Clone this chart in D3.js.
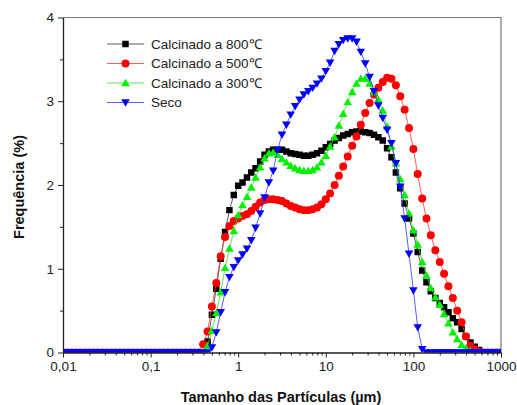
<!DOCTYPE html>
<html><head><meta charset="utf-8">
<script src="https://cdn.jsdelivr.net/npm/d3@7"></script>
<style>body{margin:0;background:#fff}svg{display:block}text{font-family:Arial,"Liberation Sans",sans-serif}</style>
</head><body><svg id="c" width="517" height="405"></svg>
<script>
const sizes=[0.01,0.0112,0.0126,0.0141,0.0158,0.0178,0.02,0.0224,0.0251,0.0282,0.0316,0.0355,0.0398,0.0447,0.0501,0.0562,0.0631,0.0708,0.0794,0.0891,
0.1,0.112,0.126,0.141,0.158,0.178,0.2,0.224,0.251,0.282,0.316,0.355,0.398,0.447,0.501,0.562,0.631,0.708,0.794,0.891,
1,1.12,1.26,1.41,1.58,1.78,2,2.24,2.51,2.82,3.16,3.55,3.98,4.47,5.01,5.62,6.31,7.08,7.94,8.91,
10,11.2,12.6,14.1,15.8,17.8,20,22.4,25.1,28.2,31.6,35.5,39.8,44.7,50.1,56.2,63.1,70.8,79.4,89.1,
100,112,126,141,158,178,200,224,251,282,316,355,398,447,501,562,631,708,794,891,1000];

const seriesNames=["Calcinado a 800\u2103","Calcinado a 500\u2103","Calcinado a 300\u2103","Seco"];

const calc800=[0,0,0,0,0,0,0,0,0,0,0,0,0,0,0,0,0,0,0,0,
0,0,0,0,0,0,0,0,0,0,0,0,0,0.13,0.45,0.76,1.12,1.44,1.70,1.88,
1.99,2.03,2.09,2.15,2.20,2.28,2.36,2.40,2.42,2.42,2.42,2.40,2.38,2.37,2.36,2.35,2.35,2.36,2.38,2.41,
2.45,2.49,2.53,2.56,2.59,2.61,2.63,2.64,2.64,2.63,2.62,2.60,2.57,2.53,2.44,2.33,2.15,1.96,1.78,1.60,
1.42,1.20,0.98,0.84,0.73,0.65,0.59,0.54,0.48,0.41,0.36,0.28,0.19,0.12,0.07,0.03,0,0,0,0,
0];
const calc500=[0,0,0,0,0,0,0,0,0,0,0,0,0,0,0,0,0,0,0,0,
0,0,0,0,0,0,0,0,0,0,0,0,0.10,0.25,0.55,0.83,1.15,1.38,1.51,1.57,
1.60,1.63,1.65,1.69,1.74,1.79,1.82,1.83,1.83,1.82,1.81,1.78,1.75,1.73,1.71,1.70,1.70,1.71,1.73,1.77,
1.83,1.90,2.00,2.11,2.22,2.34,2.47,2.58,2.72,2.86,2.98,3.08,3.16,3.23,3.28,3.27,3.19,3.06,2.90,2.68,
2.43,2.13,1.84,1.60,1.40,1.22,1.08,0.94,0.79,0.65,0.50,0.36,0.19,0.08,0.04,0.01,0,0,0,0,
0];
const calc300=[0,0,0,0,0,0,0,0,0,0,0,0,0,0,0,0,0,0,0,0,
0,0,0,0,0,0,0,0,0,0,0,0,0,0.08,0.26,0.47,0.72,1.01,1.24,1.45,
1.64,1.76,1.86,1.97,2.09,2.21,2.32,2.38,2.39,2.36,2.31,2.27,2.23,2.20,2.18,2.17,2.17,2.18,2.21,2.27,
2.35,2.46,2.57,2.71,2.85,2.99,3.11,3.21,3.27,3.27,3.21,3.11,3.02,2.89,2.70,2.46,2.26,2.07,1.88,1.66,
1.46,1.29,1.08,0.92,0.77,0.66,0.57,0.46,0.35,0.24,0.16,0.09,0.05,0.02,0,0,0,0,0,0,
0];
const seco=[0,0,0,0,0,0,0,0,0,0,0,0,0,0,0,0,0,0,0,0,
0,0,0,0,0,0,0,0,0,0,0,0,0,0,0.06,0.24,0.48,0.72,0.90,1.02,
1.10,1.17,1.24,1.34,1.49,1.66,1.85,2.03,2.17,2.42,2.60,2.72,2.84,2.94,3.02,3.08,3.12,3.16,3.21,3.27,
3.36,3.46,3.60,3.68,3.73,3.75,3.75,3.71,3.59,3.45,3.29,3.12,2.95,2.80,2.66,2.50,2.26,1.98,1.60,1.18,
0.74,0.30,0.04,0,0,0,0,0,0,0,0,0,0,0,0,0,0,0,0,0,
0];

const xTickValues=[0.01,0.1,1,10,100,1000];
const xTickLabels=["0,01","0,1","1","10","100","1000"];
const yTickValues=[0,1,2,3,4];
const yMinorValues=[0.5,1.5,2.5,3.5];
const xAxisTitle="Tamanho das Part\u00edculas (\u00b5m)";
const yAxisTitle="Frequ\u00eancia (%)";

const colors=["#000000","#ff0000","#00f000","#0000ff"];
const lineColors=["#333333","#ff3333","#33dd33","#3333ff"];
const allSeries=[calc800,calc500,calc300,seco];

const svg=d3.select("#c");
const L=63,R=501,T=17.5,B=352.5;
const x=d3.scaleLog().domain([0.01,1000]).range([L,R]);
const y=d3.scaleLinear().domain([0,4]).range([B,T]);

svg.append("line").attr("x1",L).attr("x2",R).attr("y1",T).attr("y2",T).attr("stroke","#777").attr("stroke-width",1.2);
svg.append("line").attr("x1",R).attr("x2",R).attr("y1",T).attr("y2",B).attr("stroke","#777").attr("stroke-width",1.2);

svg.append("clipPath").attr("id","clip").append("rect").attr("x",L).attr("y",T-10).attr("width",R-L).attr("height",B-T+10);

const markerPath=[
  d3.symbol().type(d3.symbolSquare).size(42)(),
  d3.symbol().type(d3.symbolCircle).size(50)(),
  "M0,-4.2L4.3,3.2L-4.3,3.2Z",
  "M0,4.2L4.3,-3.2L-4.3,-3.2Z"
];

const line=d3.line().x((d,i)=>x(sizes[i])).y(d=>y(d));
const g=svg.append("g").attr("clip-path","url(#clip)");
allSeries.forEach((s,k)=>{
  g.append("path").datum(s).attr("d",line).attr("fill","none").attr("stroke",lineColors[k]).attr("stroke-width",0.8);
  g.selectAll(null).data(s).enter().append("path")
    .attr("d",markerPath[k]).attr("fill",colors[k])
    .attr("transform",(d,i)=>`translate(${x(sizes[i])},${y(d)})`);
});

const xMinor=[];
[0.01,0.1,1,10,100].forEach(dec=>{for(let m=2;m<=9;m++)xMinor.push(dec*m);});
svg.append("g").attr("transform",`translate(0,${B})`)
  .call(d3.axisBottom(x).tickValues(xTickValues).tickFormat((d,i)=>xTickLabels[i]).tickSize(5).tickSizeOuter(0).tickPadding(4));
svg.append("g").attr("transform",`translate(0,${B})`)
  .call(d3.axisBottom(x).tickValues(xMinor).tickFormat("").tickSize(3).tickSizeOuter(0))
  .select(".domain").remove();
svg.append("g").attr("transform",`translate(${L},0)`)
  .call(d3.axisLeft(y).tickValues(yTickValues).tickFormat(d3.format("d")).tickSize(5).tickSizeOuter(0).tickPadding(4));
svg.append("g").attr("transform",`translate(${L},0)`)
  .call(d3.axisLeft(y).tickValues(yMinorValues).tickFormat("").tickSize(3).tickSizeOuter(0))
  .select(".domain").remove();
svg.selectAll(".domain").attr("stroke","#222").attr("stroke-width",1.3);
svg.selectAll(".tick line").attr("stroke","#222").attr("stroke-width",1);
svg.selectAll(".tick text").attr("font-size",13.5).attr("fill","#222").attr("font-family","Arial, 'Liberation Sans', sans-serif");

svg.append("text").attr("x",281).attr("y",402).attr("text-anchor","middle")
  .attr("font-size",14.5).attr("font-weight","bold").attr("fill","#111").text(xAxisTitle);
svg.append("text").attr("transform","translate(24,187) rotate(-90)").attr("text-anchor","middle")
  .attr("font-size",14.5).attr("font-weight","bold").attr("fill","#111").text(yAxisTitle);

const lg=svg.append("g");
seriesNames.forEach((n,k)=>{
  const yy=44+k*19.5;
  lg.append("line").attr("x1",107).attr("x2",144).attr("y1",yy).attr("y2",yy).attr("stroke",lineColors[k]).attr("stroke-width",0.8);
  lg.append("path").attr("d",markerPath[k]).attr("fill",colors[k]).attr("transform",`translate(125.5,${yy})`);
  lg.append("text").attr("x",151).attr("y",yy+4.8).attr("font-size",13.5).attr("fill","#222").text(n);
});
</script></body></html>
